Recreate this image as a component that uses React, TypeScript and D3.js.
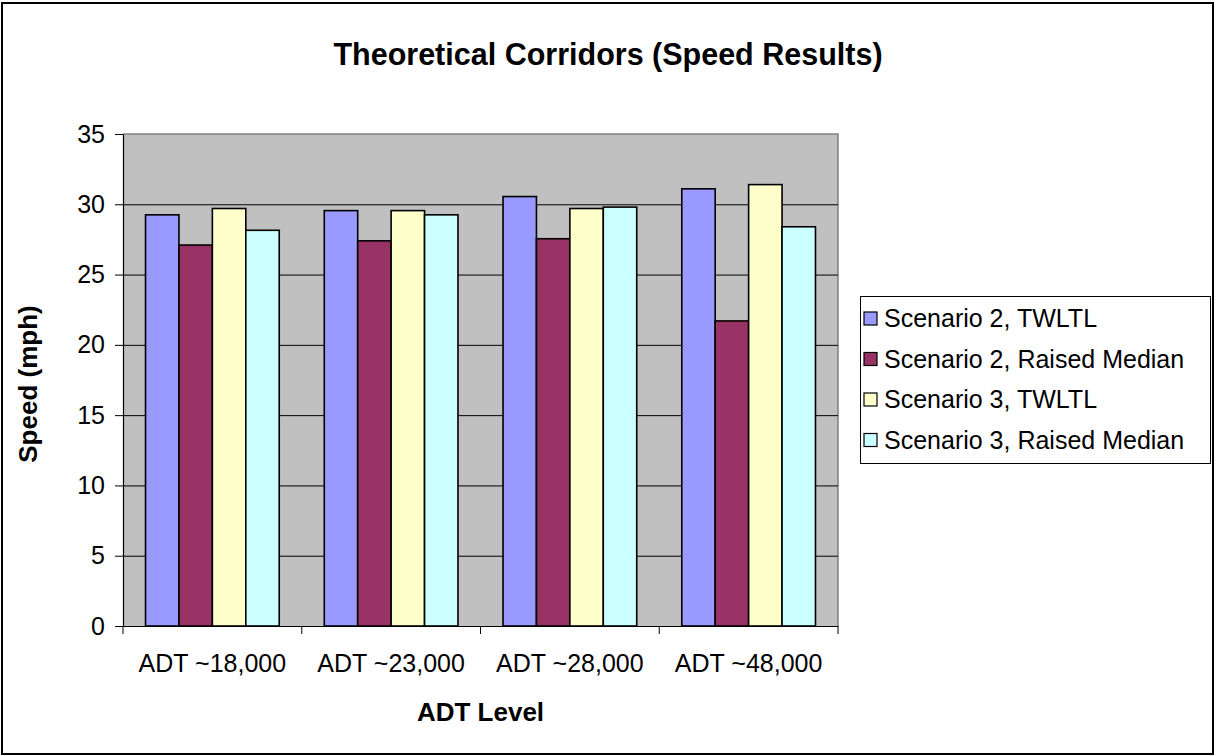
import React, { useEffect, useRef } from 'react';
import * as d3 from 'd3';

const categories = ['ADT ~18,000', 'ADT ~23,000', 'ADT ~28,000', 'ADT ~48,000'];
const seriesNames = [
  'Scenario 2, TWLTL',
  'Scenario 2, Raised Median',
  'Scenario 3, TWLTL',
  'Scenario 3, Raised Median',
];
const s2Twltl = [29.25, 29.55, 30.55, 31.1];
const s2Raised = [27.1, 27.4, 27.55, 21.7];
const s3Twltl = [29.7, 29.55, 29.7, 31.4];
const s3Raised = [28.15, 29.25, 29.8, 28.4];
const seriesColors = ['#9999FF', '#993366', '#FFFFCC', '#CCFFFF'];
const yTicks = [0, 5, 10, 15, 20, 25, 30, 35];

const W = 1215;
const H = 756;

const App: React.FC = () => {
  const ref = useRef<SVGSVGElement>(null);

  useEffect(() => {
    const svg = d3.select(ref.current);
    svg.selectAll('*').remove();

    const font = 'Arial, "Liberation Sans", sans-serif';
    const left = 123, right = 838, top = 134, bottom = 626;
    const series = [s2Twltl, s2Raised, s3Twltl, s3Raised];

    // outer frame
    svg.append('rect')
      .attr('x', 2).attr('y', 3).attr('width', W - 4).attr('height', H - 5)
      .attr('fill', '#fff').attr('stroke', '#000').attr('stroke-width', 2);

    const x0 = d3.scaleBand().domain(categories).range([left, right]).padding(0);
    const gap = x0.bandwidth() * 0.126;
    const x1 = d3.scaleBand<number>().domain(d3.range(series.length)).range([gap, x0.bandwidth() - gap]);
    const y = d3.scaleLinear().domain([0, 35]).range([bottom, top]);

    // plot area
    svg.append('rect')
      .attr('x', left).attr('y', top).attr('width', right - left).attr('height', bottom - top)
      .attr('fill', '#C0C0C0');
    svg.append('path')
      .attr('d', `M${left},${top}H${right}V${bottom}`)
      .attr('fill', 'none').attr('stroke', '#808080').attr('stroke-width', 1.5);

    // gridlines
    svg.append('g').selectAll('line')
      .data(yTicks.filter(t => t > 0 && t < 35))
      .enter().append('line')
      .attr('x1', left).attr('x2', right)
      .attr('y1', d => y(d) + 0.5).attr('y2', d => y(d) + 0.5)
      .attr('stroke', '#000').attr('stroke-width', 1);

    // bars
    categories.forEach((c, ci) => {
      svg.append('g').selectAll('rect')
        .data(series.map((s, si) => ({ si, v: s[ci] })))
        .enter().append('rect')
        .attr('x', d => (x0(c) as number) + (x1(d.si) as number))
        .attr('y', d => y(d.v))
        .attr('width', x1.bandwidth())
        .attr('height', d => bottom - y(d.v))
        .attr('fill', d => seriesColors[d.si])
        .attr('stroke', '#000').attr('stroke-width', 1.6);
    });

    // y axis
    const yAxis = svg.append('g')
      .attr('transform', `translate(${left},0)`)
      .call(d3.axisLeft(y).tickValues(yTicks).tickSize(8).tickPadding(10).tickSizeOuter(0));
    yAxis.select('.domain').attr('stroke', '#000').attr('stroke-width', 1.2);
    yAxis.selectAll('.tick line').attr('stroke', '#000');
    yAxis.selectAll('.tick text')
      .attr('font-family', font).attr('font-size', 25).attr('fill', '#000');

    // x axis
    const xAxis = svg.append('g')
      .attr('transform', `translate(0,${bottom})`)
      .call(d3.axisBottom(x0).tickSize(0).tickPadding(28));
    xAxis.select('.domain').attr('stroke', '#000').attr('stroke-width', 1.2);
    xAxis.selectAll('.tick text')
      .attr('font-family', font).attr('font-size', 25).attr('fill', '#000');
    xAxis.selectAll('line.sep')
      .data(d3.range(categories.length + 1))
      .enter().append('line')
      .attr('class', 'sep')
      .attr('x1', i => left + i * x0.step()).attr('x2', i => left + i * x0.step())
      .attr('y1', 0).attr('y2', 8)
      .attr('stroke', '#000');

    // titles
    svg.append('text')
      .attr('x', 608).attr('y', 65).attr('text-anchor', 'middle')
      .attr('font-family', font).attr('font-size', 30.5).attr('font-weight', 'bold')
      .text('Theoretical Corridors (Speed Results)');
    svg.append('text')
      .attr('x', (left + right) / 2).attr('y', 721).attr('text-anchor', 'middle')
      .attr('font-family', font).attr('font-size', 26).attr('font-weight', 'bold')
      .text('ADT Level');
    svg.append('text')
      .attr('transform', `translate(${37},${384}) rotate(-90)`)
      .attr('text-anchor', 'middle')
      .attr('font-family', font).attr('font-size', 26).attr('font-weight', 'bold')
      .text('Speed (mph)');

    // legend
    const lg = svg.append('g');
    lg.append('rect')
      .attr('x', 860.5).attr('y', 296.5).attr('width', 350).attr('height', 167)
      .attr('fill', '#fff').attr('stroke', '#000').attr('stroke-width', 1);
    const items = lg.selectAll('g.item')
      .data(seriesNames)
      .enter().append('g')
      .attr('class', 'item')
      .attr('transform', (_, i) => `translate(864,${318 + i * 40.5})`);
    items.append('rect')
      .attr('x', 0).attr('y', -6).attr('width', 13).attr('height', 13)
      .attr('fill', (_, i) => seriesColors[i]).attr('stroke', '#000').attr('stroke-width', 1.2);
    items.append('text')
      .attr('x', 20).attr('y', 9)
      .attr('font-family', font).attr('font-size', 25).attr('fill', '#000')
      .text(d => d);
  }, []);

  return (
    <svg ref={ref} width={W} height={H} style={{ position: 'absolute', left: 0, top: 0 }} />
  );
};

export default App;
